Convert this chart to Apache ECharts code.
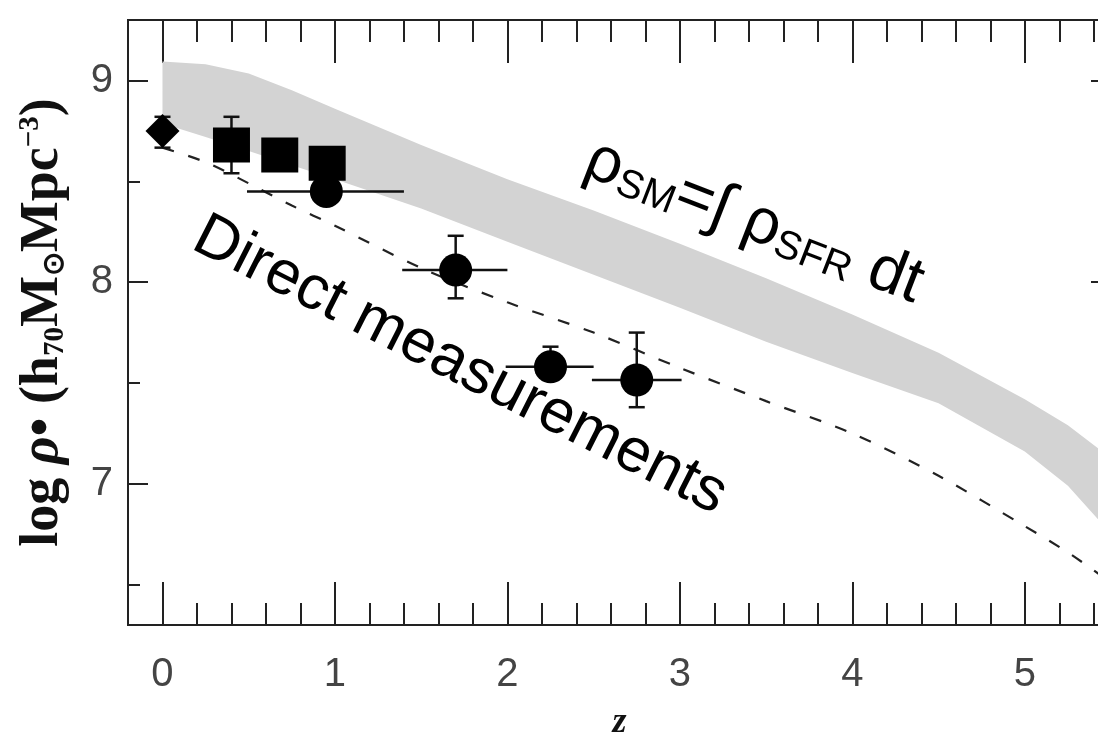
<!DOCTYPE html>
<html>
<head>
<meta charset="utf-8">
<script src="https://cdn.jsdelivr.net/npm/echarts@6/dist/echarts.min.js"></script>
<style>
html, body { margin: 0; padding: 0; background: #fff; }
#main { width: 1098px; height: 738px; }
</style>
</head>
<body>
<div id="main"></div>
<script>
// grey band: rho_SM from integrated SFR (upper / lower edge)
const bandZ = [0, 0.25, 0.5, 0.75, 1.0, 1.5, 2.0, 2.5, 3.0, 3.5, 4.0, 4.5, 5.0, 5.25, 5.45];
const bandUpper = [9.094, 9.08, 9.035, 8.952, 8.86, 8.68, 8.51, 8.355, 8.19, 8.02, 7.84, 7.65, 7.42, 7.29, 7.16];
const bandLower = [8.787, 8.72, 8.65, 8.58, 8.51, 8.365, 8.20, 8.037, 7.873, 7.705, 7.55, 7.40, 7.16, 6.99, 6.80];

// dashed model curve
const dashZ = [0, 0.25, 0.5, 0.75, 1.0, 1.5, 2.0, 2.5, 3.0, 3.5, 4.0, 4.5, 5.0, 5.25, 5.45];
const dashY = [8.667, 8.595, 8.49, 8.38, 8.28, 8.07, 7.90, 7.75, 7.575, 7.41, 7.25, 7.04, 6.79, 6.66, 6.54];

// direct measurements
const diamondPts = [[0, 8.75]];
const squarePts = [[0.40, 8.68], [0.68, 8.63], [0.955, 8.59]];
const circlePts = [[0.95, 8.45], [1.70, 8.06], [2.25, 7.58], [2.75, 7.515]];

// error bars
const errZ   = [0, 0.40, 0.95, 1.70, 2.25, 2.75];
const errY   = [8.75, 8.68, 8.45, 8.06, 7.58, 7.515];
const errXLo = [null, null, 0.49, 1.39, 1.99, 2.49];
const errXHi = [null, null, 1.40, 2.00, 2.50, 3.01];
const errYLo = [8.667, 8.54, null, 7.92, 7.53, 7.38];
const errYHi = [8.82, 8.82, null, 8.23, 7.68, 7.75];

// ticks
const xMajor = [0, 1, 2, 3, 4, 5];
const xMinor = [0.2, 0.4, 0.6, 0.8, 1.2, 1.4, 1.6, 1.8, 2.2, 2.4, 2.6, 2.8,
                3.2, 3.4, 3.6, 3.8, 4.2, 4.4, 4.6, 4.8, 5.2, 5.4];
const yMajor = [7, 8, 9];
const yMinor = [6.5, 7.5, 8.5];

const chart = echarts.init(document.getElementById('main'));

const AX = '#222';
const labelFont = { fontFamily: 'Liberation Sans', fontSize: 40, color: '#444' };

function xAxisDef(pos, ticks, len, labels) {
  return {
    type: 'value', position: pos, min: -0.2, max: 5.5,
    axisLine: { show: true, onZero: false, lineStyle: { color: AX, width: 2 } },
    axisTick: { show: true, inside: true, length: len, customValues: ticks, lineStyle: { color: AX, width: 2 } },
    axisLabel: labels ? Object.assign({ show: true, customValues: xMajor, margin: 30 }, labelFont) : { show: false },
    splitLine: { show: false }
  };
}
function yAxisDef(pos, ticks, len, labels) {
  return {
    type: 'value', position: pos, min: 6.3, max: 9.3,
    axisLine: { show: true, onZero: false, lineStyle: { color: AX, width: 2 } },
    axisTick: { show: true, inside: true, length: len, customValues: ticks, lineStyle: { color: AX, width: 2 } },
    axisLabel: labels ? Object.assign({ show: true, customValues: yMajor, margin: 15 }, labelFont) : { show: false },
    splitLine: { show: false }
  };
}

const xAxes = [
  xAxisDef('bottom', xMajor, 43, true),
  xAxisDef('bottom', xMinor, 22, false),
  xAxisDef('top', xMajor, 43, false),
  xAxisDef('top', xMinor, 22, false)
];
xAxes[0].name = 'z';
xAxes[0].nameLocation = 'middle';
xAxes[0].nameGap = 80;
xAxes[0].nameTextStyle = { fontFamily: 'Liberation Serif', fontWeight: 'bold', fontStyle: 'italic', fontSize: 36, color: '#111' };

const yAxes = [
  yAxisDef('left', yMajor, 20, true),
  yAxisDef('left', yMinor, 12, false),
  yAxisDef('right', yMajor, 20, false),
  yAxisDef('right', yMinor, 12, false)
];
yAxes[0].name = '{b|log }{i|ρ}{b|• (h}{sub|70}{b|M}{sub|⊙}{b|Mpc}{sup|−3}{b|)}';
yAxes[0].nameLocation = 'middle';
yAxes[0].nameRotate = 90;
yAxes[0].nameGap = 58;
yAxes[0].nameTextStyle = {
  color: '#111',
  rich: {
    b: { fontFamily: 'Liberation Serif', fontWeight: 'bold', fontSize: 54, color: '#111' },
    i: { fontFamily: 'Liberation Serif', fontWeight: 'bold', fontStyle: 'italic', fontSize: 54, color: '#111' },
    sub: { fontFamily: 'Liberation Serif', fontWeight: 'bold', fontSize: 29, color: '#111', verticalAlign: 'bottom' },
    sup: { fontFamily: 'Liberation Serif', fontWeight: 'bold', fontSize: 29, color: '#111', verticalAlign: 'top' }
  }
};

function renderBand(params, api) {
  const pts = [];
  for (let i = 0; i < bandZ.length; i++) pts.push(api.coord([bandZ[i], bandUpper[i]]));
  for (let i = bandZ.length - 1; i >= 0; i--) pts.push(api.coord([bandZ[i], bandLower[i]]));
  return { type: 'polygon', shape: { points: pts }, style: { fill: '#d3d3d3' } };
}

function renderErr(params, api) {
  const i = params.dataIndex;
  const children = [];
  const style = { stroke: '#111', lineWidth: 2.5 };
  const cap = 8;
  if (errXLo[i] != null) {
    const a = api.coord([errXLo[i], errY[i]]);
    const b = api.coord([errXHi[i], errY[i]]);
    children.push({ type: 'line', shape: { x1: a[0], y1: a[1], x2: b[0], y2: b[1] }, style });
  }
  if (errYLo[i] != null) {
    const a = api.coord([errZ[i], errYLo[i]]);
    const b = api.coord([errZ[i], errYHi[i]]);
    children.push({ type: 'line', shape: { x1: a[0], y1: a[1], x2: b[0], y2: b[1] }, style });
    children.push({ type: 'line', shape: { x1: a[0] - cap, y1: a[1], x2: a[0] + cap, y2: a[1] }, style });
    children.push({ type: 'line', shape: { x1: b[0] - cap, y1: b[1], x2: b[0] + cap, y2: b[1] }, style });
  }
  return { type: 'group', children };
}

chart.setOption({
  backgroundColor: '#fff',
  animation: false,
  grid: { left: 128, top: 20, right: -13, bottom: 113, outerBoundsMode: 'none', containLabel: false },
  xAxis: xAxes,
  yAxis: yAxes,
  series: [
    {
      type: 'custom',
      renderItem: renderBand,
      data: [0],
      z: 1,
      silent: true
    },
    {
      type: 'line',
      data: dashZ.map((z, i) => [z, dashY[i]]),
      showSymbol: false,
      smooth: 0.3,
      lineStyle: { color: '#222', width: 2.2, type: [12, 15] },
      z: 2
    },
    {
      type: 'custom',
      renderItem: renderErr,
      data: errZ.map((z, i) => [z, errY[i]]),
      z: 3
    },
    {
      type: 'scatter',
      data: diamondPts,
      symbol: 'diamond',
      symbolSize: [34, 34],
      itemStyle: { color: '#000', opacity: 1 },
      z: 4
    },
    {
      type: 'scatter',
      data: squarePts,
      symbol: 'rect',
      symbolSize: [37, 35],
      itemStyle: { color: '#000', opacity: 1 },
      z: 4
    },
    {
      type: 'scatter',
      data: circlePts,
      symbol: 'circle',
      symbolSize: 33,
      itemStyle: { color: '#000', opacity: 1 },
      z: 4
    }
  ],
  graphic: [
    {
      type: 'text',
      x: 754, y: 222,
      rotation: -0.37,
      z: 10,
      style: {
        text: '{n|ρ}{s|SM}{n|=∫ ρ}{s|SFR}{n| dt}',
        align: 'center',
        verticalAlign: 'middle',
        rich: {
          n: { fontFamily: 'Liberation Sans', fontSize: 64, fill: '#000', lineHeight: 64 },
          s: { fontFamily: 'Liberation Sans', fontSize: 40, fill: '#000', verticalAlign: 'bottom', lineHeight: 40 }
        }
      }
    },
    {
      type: 'text',
      x: 460, y: 366,
      rotation: -0.47,
      z: 10,
      style: {
        text: 'Direct measurements',
        align: 'center',
        verticalAlign: 'middle',
        fontFamily: 'Liberation Sans',
        fontSize: 62,
        fill: '#000'
      }
    }
  ]
});
</script>
</body>
</html>
